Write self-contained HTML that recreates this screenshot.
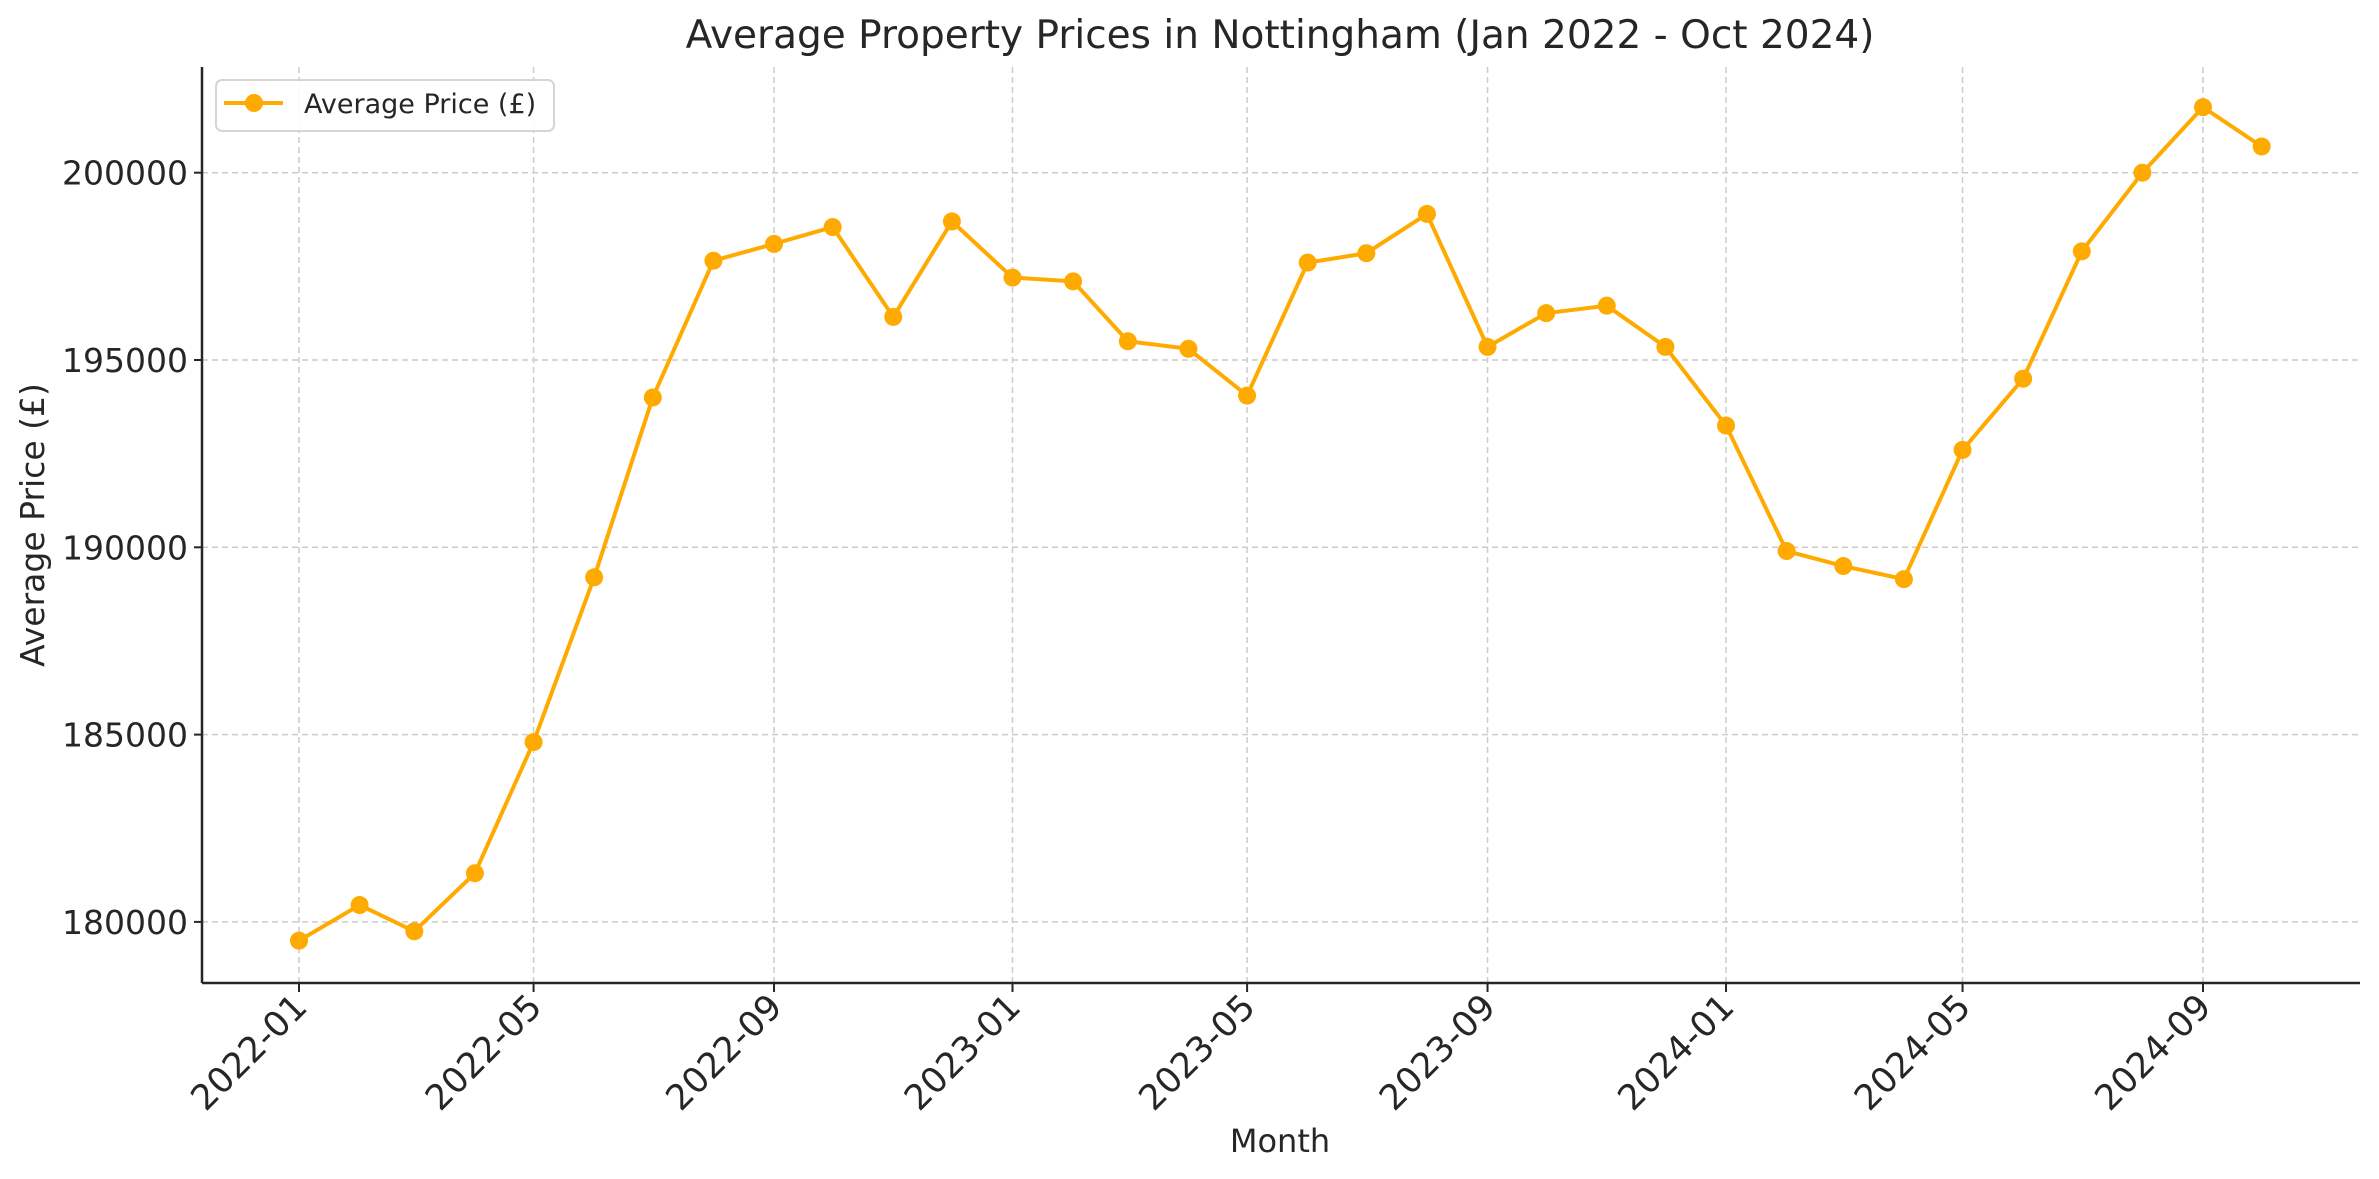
<!DOCTYPE html>
<html><head><meta charset="utf-8"><style>html,body{margin:0;padding:0;background:#fff;}svg{display:block;}</style></head>
<body>
<svg id="c" xmlns="http://www.w3.org/2000/svg" width="2379" height="1179" viewBox="0 0 2379 1179" font-family="'DejaVu Sans', 'Liberation Sans', sans-serif" fill="#262626"></svg>
<script>
const svg=document.getElementById('c');
const L=202,R=2360,T=67,B=983;
const vals=[179500,180450,179750,181300,184800,189200,194000,197650,198100,198550,196150,198700,197200,197100,195500,195300,194050,197600,197850,198900,195350,196250,196450,195350,193250,189900,189500,189150,192600,194500,197900,200000,201750,200700];
const d0=Date.UTC(2022,0,1), d1=Date.UTC(2024,8,1);
function X(y,m){return 299+(Date.UTC(y,m,1)-d0)/(d1-d0)*(2203-299);}
function Y(v){return 172.7+(200000-v)*0.03746;}
let h='';
const ticks=[[2022,0],[2022,4],[2022,8],[2023,0],[2023,4],[2023,8],[2024,0],[2024,4],[2024,8]];
for(const t of ticks){const x=X(t[0],t[1]);h+=`<line x1="${x}" y1="${T}" x2="${x}" y2="${B}" stroke="#cccccc" stroke-width="1.5" stroke-dasharray="6,4"/>`;}
for(let v=180000;v<=200000;v+=5000){const y=Y(v);h+=`<line x1="${L}" y1="${y}" x2="${R}" y2="${y}" stroke="#cccccc" stroke-width="1.5" stroke-dasharray="6,4"/>`;
h+=`<line x1="${L-8}" y1="${y}" x2="${L}" y2="${y}" stroke="#262626" stroke-width="2"/>`;
h+=`<text x="${L-14}" y="${y+12}" font-size="33" text-anchor="end">${v}</text>`;}
h+=`<line x1="${L}" y1="${T}" x2="${L}" y2="${B}" stroke="#262626" stroke-width="2.5"/>`;
h+=`<line x1="${L}" y1="${B}" x2="${R}" y2="${B}" stroke="#262626" stroke-width="2.5"/>`;
for(const t of ticks){const x=X(t[0],t[1]);const lab=t[0]+'-'+String(t[1]+1).padStart(2,'0');
h+=`<line x1="${x}" y1="${B}" x2="${x}" y2="${B+9}" stroke="#262626" stroke-width="2"/>`;
h+=`<text x="${x+10}" y="${B+26}" font-size="35" text-anchor="end" transform="rotate(-45 ${x+10} ${B+26})">${lab}</text>`;}
let pts=[];
for(let i=0;i<vals.length;i++){const y=2022+Math.floor(i/12),m=i%12;pts.push([X(y,m),Y(vals[i])]);}
h+=`<polyline points="${pts.map(p=>p.join(',')).join(' ')}" fill="none" stroke="#FFAA00" stroke-width="4" stroke-linejoin="round"/>`;
for(const p of pts)h+=`<circle cx="${p[0]}" cy="${p[1]}" r="9" fill="#FFAA00"/>`;
h+=`<rect x="216" y="80" width="338" height="51" rx="6" fill="#fff" fill-opacity="0.85" stroke="#d5d5d5" stroke-width="2"/>`;
h+=`<line x1="224" y1="103" x2="283" y2="103" stroke="#FFAA00" stroke-width="4"/><circle cx="254" cy="103" r="9" fill="#FFAA00"/>`;
h+=`<text x="304" y="113" font-size="27">Average Price (£)</text>`;
h+=`<text x="1280" y="48" font-size="39" text-anchor="middle">Average Property Prices in Nottingham (Jan 2022 - Oct 2024)</text>`;
h+=`<text x="1280" y="1152" font-size="32" text-anchor="middle">Month</text>`;
h+=`<text x="44" y="525" font-size="33" text-anchor="middle" transform="rotate(-90 44 525)">Average Price (£)</text>`;
svg.innerHTML=h;
</script>
</body></html>
